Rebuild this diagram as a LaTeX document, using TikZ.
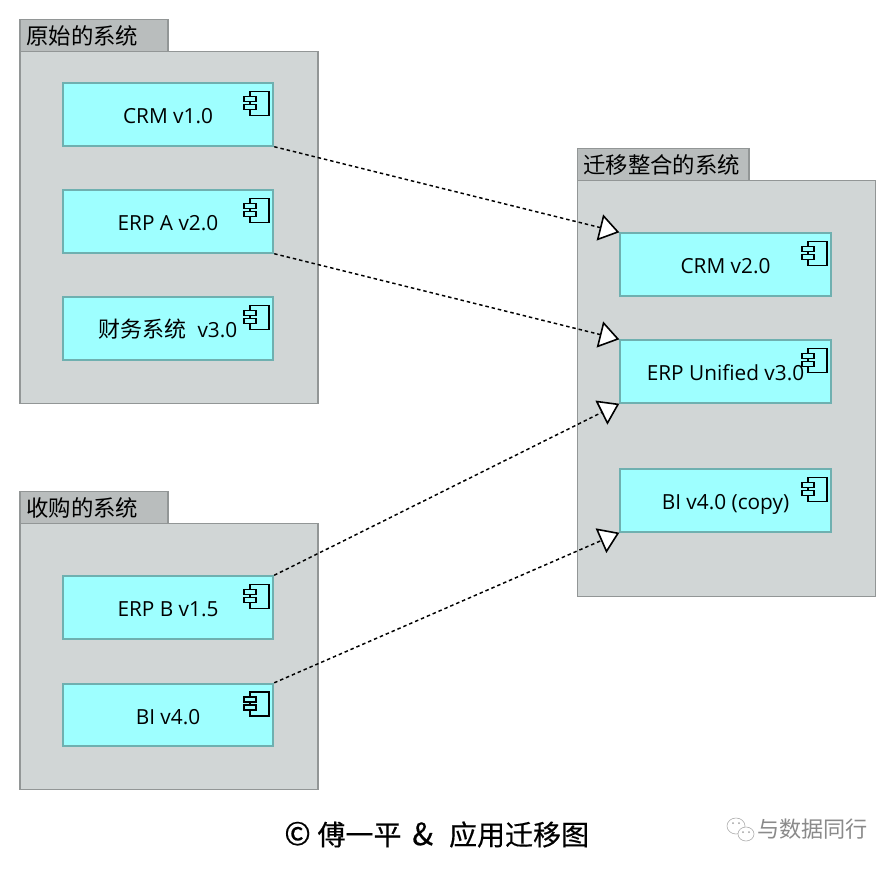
\documentclass[tikz,border=0pt]{standalone}
\usepackage{fontspec}
\setmainfont{Open Sans}
\newfontfamily\cjk{Noto Sans CJK SC}
\newfontfamily\cjkheavy[FakeBold=0.35]{Noto Sans CJK SC}
\usetikzlibrary{arrows.meta}
\definecolor{groupfill}{HTML}{D1D6D6}
\definecolor{tabfill}{HTML}{B9BDBD}
\definecolor{groupline}{HTML}{929696}
\definecolor{compfill}{HTML}{9EFFFF}
\definecolor{compline}{HTML}{6FB0B0}
\definecolor{markgrey}{HTML}{8A8A8A}
\tikzset{
  x=0.75pt,y=-0.75pt,
  groupbody/.style={draw=groupline,fill=groupfill,line width=1.3pt,minimum width=223.5pt,inner sep=0pt},
  grouptab/.style={draw=groupline,fill=tabfill,line width=1.3pt,minimum height=24pt,inner sep=0pt,text=black},
  tablabel/.style={anchor=west,inner sep=0pt,font=\cjk\fontsize{16.8}{18}\selectfont},
  comp/.style={draw=compline,fill=compfill,line width=1.3pt,minimum width=158pt,minimum height=47pt,inner sep=0pt,text=black,text height=14.4pt,text depth=0.8pt,font=\fontsize{15.6}{18}\selectfont},
  flow/.style={dash pattern=on 2.6pt off 2.2pt,line width=1.1pt,black,-{Triangle[open,fill=white,length=15pt,width=20pt,line width=1.2pt]}},
  iconline/.style={draw=black,line width=1.2pt,fill=compfill},
  wmark/.style={draw=markgrey!70,line width=0.45pt,fill=white},
  wdot/.style={fill=markgrey!80,draw=none},
}
\newcommand{\compicon}[1]{%
  \path (#1.north east) ++(-5,9) coordinate (ic);
  \draw[iconline] ([shift={(-19,0)}]ic) rectangle ([shift={(0,24)}]ic);
  \draw[iconline] ([shift={(-25,5)}]ic) rectangle ([shift={(-13,10)}]ic);
  \draw[iconline] ([shift={(-25,13)}]ic) rectangle ([shift={(-13,18)}]ic);
}
\begin{document}
\begin{tikzpicture}
\useasboundingbox[fill=white] (0,0) rectangle (896,868);

% groups
\node[grouptab,minimum width=111pt,anchor=north west] (tabA) at (19.3,18.5) {};
\node[tablabel] (tabAt) at (26,36) {原始的系统};
\node[groupbody,minimum height=264pt,anchor=north west] (bodyA) at (19.3,50.5) {};

\node[grouptab,minimum width=111pt,anchor=north west] (tabB) at (19.3,490.5) {};
\node[tablabel] (tabBt) at (26,508) {收购的系统};
\node[groupbody,minimum height=199.5pt,anchor=north west] (bodyB) at (19.3,522.5) {};

\node[grouptab,minimum width=128.5pt,anchor=north west] (tabC) at (576.5,147.5) {};
\node[tablabel] (tabCt) at (583,165) {迁移整合的系统};
\node[groupbody,minimum height=312pt,anchor=north west] (bodyC) at (576.5,179.5) {};

% components
\node[comp] (crmA) at (168,114.5) {CRM v1.0};
\node[comp] (erpA) at (168,221.5) {ERP A v2.0};
\node[comp] (fin)  at (168,328.5) {{\cjk\fontsize{16.5}{18}\selectfont 财务系统}\ \ v3.0\hspace{3pt}};
\node[comp] (erpB) at (168,607.5) {ERP B v1.5};
\node[comp] (biA)  at (168,715) {BI v4.0};
\node[comp] (crmC) at (725.5,264.5) {CRM v2.0};
\node[comp] (erpC) at (725.5,371.5) {ERP Unified v3.0\hspace{2pt}};
\node[comp] (biC)  at (725.5,500.5) {BI v4.0 (copy)};

\compicon{crmA}\compicon{erpA}\compicon{fin}\compicon{erpB}\compicon{biA}\compicon{crmC}\compicon{erpC}\compicon{biC}

% connectors
\draw[flow] (crmA.south east) -- (crmC.north west);
\draw[flow] (erpA.south east) -- (erpC.north west);
\draw[flow] (erpB.north east) -- (erpC.south west);
\draw[flow] (biA.north east) -- (biC.south west);

% footer
\node[inner sep=0pt,anchor=west,font=\cjkheavy\fontsize{21}{24}\selectfont] (foot) at (284,834.5) {\fontsize{24}{24}\selectfont ©\fontsize{21}{24}\selectfont\hspace{5pt}傅一平\hspace{8pt}\fontsize{23}{24}\selectfont\&\fontsize{21}{24}\selectfont\hspace{12pt}应用迁移图};

% watermark
\draw[wmark] (736,826) ellipse (9 and 8);
\draw[wmark] (746,834) ellipse (8 and 7);
\fill[wdot] (733,823) circle (1);
\fill[wdot] (739,823) circle (1);
\fill[wdot] (743,832) circle (1);
\fill[wdot] (749,832) circle (1);
\node[inner sep=0pt,anchor=west,text=markgrey,font=\cjk\fontsize{16.6}{18}\selectfont] (wm) at (757,829) {与数据同行};
\end{tikzpicture}
\end{document}
